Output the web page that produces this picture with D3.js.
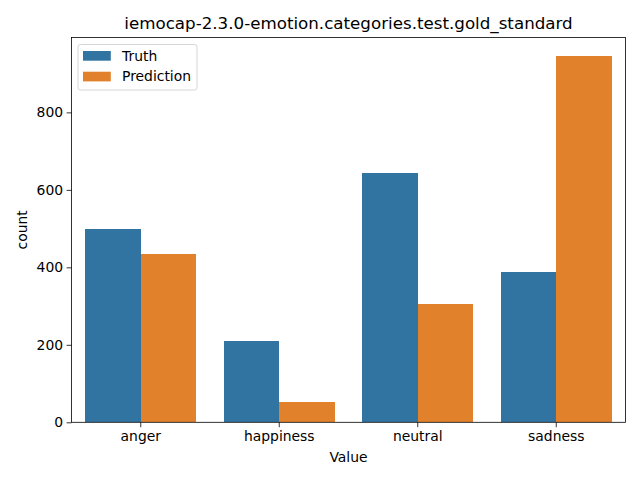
<!DOCTYPE html>
<html><head><meta charset="utf-8">
<script src="https://cdn.jsdelivr.net/npm/d3@7"></script>
<style>body{margin:0;background:#fff}svg{display:block}text{font-family:"DejaVu Sans",sans-serif;fill:#000}</style>
</head><body>
<svg id="c" width="640" height="480"></svg>
<script>
const categories = ["anger","happiness","neutral","sadness"];
const seriesNames = ["Truth","Prediction"];
const truthValues = [499,210,644,388];
const predictionValues = [435,52,305,946];
const yTicks = [0,200,400,600,800];
const colors = ["#3274a1","#e1812c"];

const svg = d3.select("#c");
const L=71.5, R=625.5, T=37.5, B=422.3;
const maxV = d3.max(truthValues.concat(predictionValues));
const y = d3.scaleLinear().domain([0, maxV*1.05]).range([B, T]);
const x = d3.scaleBand().domain(categories).range([L,R]).paddingInner(0.2).paddingOuter(0.1);
const xs = d3.scaleBand().domain(seriesNames).range([0, x.bandwidth()]);

const data = [truthValues, predictionValues];
seriesNames.forEach((s,si)=>{
  svg.append("g").attr("shape-rendering","crispEdges").selectAll("rect").data(categories).join("rect")
    .attr("x", c=>x(c)+xs(s)).attr("width", xs.bandwidth())
    .attr("y", (c,i)=>y(data[si][i])).attr("height",(c,i)=>B-y(data[si][i]))
    .attr("fill", colors[si]);
});

// frame
svg.append("rect").attr("x",L).attr("y",T).attr("width",R-L).attr("height",B-T)
  .attr("fill","none").attr("stroke","#000").attr("stroke-width",0.8);

const xAxis = svg.append("g").attr("transform",`translate(0,${B})`)
  .call(d3.axisBottom(x).tickSize(4.9).tickPadding(3.5));
const yAxis = svg.append("g").attr("transform",`translate(${L},0)`)
  .call(d3.axisLeft(y).tickValues(yTicks).tickSize(4.9).tickPadding(3.5));
[xAxis,yAxis].forEach(a=>{
  a.select(".domain").remove();
  a.selectAll("line").attr("stroke","#000").attr("stroke-width",0.8);
  a.selectAll("text").attr("font-size","13.9px").attr("font-family","DejaVu Sans");
});

svg.append("text").attr("x",(L+R)/2).attr("y",29).attr("text-anchor","middle")
  .attr("font-size","16.7px").text("iemocap-2.3.0-emotion.categories.test.gold_standard");
svg.append("text").attr("x",(L+R)/2).attr("y",462).attr("text-anchor","middle")
  .attr("font-size","13.9px").text("Value");
svg.append("text").attr("transform",`translate(27,${(T+B)/2}) rotate(-90)`).attr("text-anchor","middle")
  .attr("font-size","13.9px").text("count");

// legend
const lg = svg.append("g");
lg.append("rect").attr("x",78).attr("y",44.5).attr("width",119).attr("height",45.5).attr("rx",2.5)
  .attr("fill","#fff").attr("fill-opacity",0.8).attr("stroke","#ccc").attr("stroke-width",0.8);
seriesNames.forEach((s,i)=>{
  lg.append("rect").attr("x",83).attr("y",51+i*20.7).attr("width",27.8).attr("height",9.7).attr("fill",colors[i]);
  lg.append("text").attr("x",122).attr("y",60.5+i*20.7).attr("font-size","13.9px").text(s);
});
</script>
</body></html>
